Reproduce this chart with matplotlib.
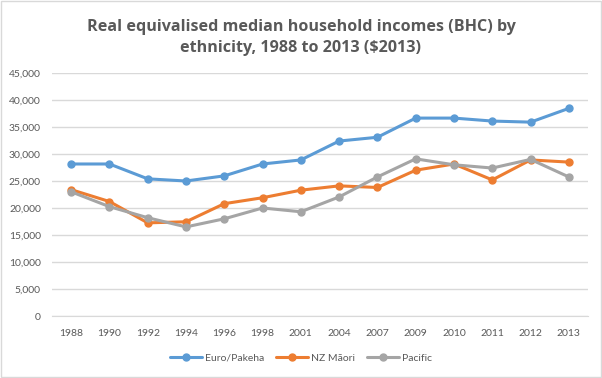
"""Real equivalised median household incomes by ethnicity, Excel-style line chart."""

import matplotlib.pyplot as plt
import numpy as np
from matplotlib.patches import Rectangle

years = ["1988", "1990", "1992", "1994", "1996", "1998", "2001",
         "2004", "2007", "2009", "2010", "2011", "2012", "2013"]
euro_pakeha = [28150, 28150, 25400, 25000, 25950, 28150, 28900,
               32400, 33100, 36650, 36650, 36100, 35900, 38450]
nz_maori = [23400, 21200, 17250, 17450, 20800, 21900, 23300,
            24100, 23800, 27000, 28150, 25200, 28900, 28500]
pacific = [23000, 20250, 18200, 16500, 18000, 20000, 19300,
           22050, 25750, 29100, 28000, 27400, 29000, 25750]

series = [
    ("Euro/Pakeha", euro_pakeha, "#5B9BD5"),
    ("NZ Māori", nz_maori, "#ED7D31"),
    ("Pacific", pacific, "#A5A5A5"),
]

TEXT = "#595959"
FONT = "Lato"

fig = plt.figure(figsize=(6.02, 3.78), dpi=100)
ax = fig.add_axes([52 / 602, 1 - 316 / 378, 536 / 602, 243 / 378])

x = np.arange(len(years))
for name, vals, color in series:
    ax.plot(x, vals, color=color, lw=2.2, marker="o", ms=5,
            label=name, solid_capstyle="round", solid_joinstyle="round")

ax.set_xlim(-0.5, len(years) - 0.5)
ax.set_ylim(0, 45000)
ax.set_yticks(np.arange(0, 45001, 5000))
ax.set_yticklabels([f"{v:,}" for v in range(0, 45001, 5000)])
ax.set_xticks(x)
ax.set_xticklabels(years)
ax.yaxis.grid(True, color="#D9D9D9", lw=1)
ax.set_axisbelow(True)
for side in ["top", "right", "left"]:
    ax.spines[side].set_visible(False)
ax.spines["bottom"].set_color("#D9D9D9")
ax.tick_params(length=0, colors=TEXT, labelsize=7.5, pad=9)
ax.tick_params(axis="y", pad=8)
for lbl in ax.get_xticklabels() + ax.get_yticklabels():
    lbl.set_family(FONT)

fig.text(0.5, 1 - 37.5 / 378, "Real equivalised median household incomes (BHC) by\n"
         "ethnicity, 1988 to 2013 ($2013)", ha="center", va="center",
         fontsize=11.6, fontweight="bold", color=TEXT, family="Open Sans",
         linespacing=1.4)

leg = fig.legend(loc="center", bbox_to_anchor=(0.5, 1 - 358 / 378), ncol=3,
                 frameon=False, handlelength=3, columnspacing=1.2,
                 handletextpad=0.3, prop={"family": FONT, "size": 7.5})
for t in leg.get_texts():
    t.set_color(TEXT)

# light chart border
fig.patches.append(Rectangle((0.001, 0.002), 0.997, 0.995, transform=fig.transFigure,
                             fill=False, ec="#D9D9D9", lw=1))

fig.savefig("out.png", dpi=100)
